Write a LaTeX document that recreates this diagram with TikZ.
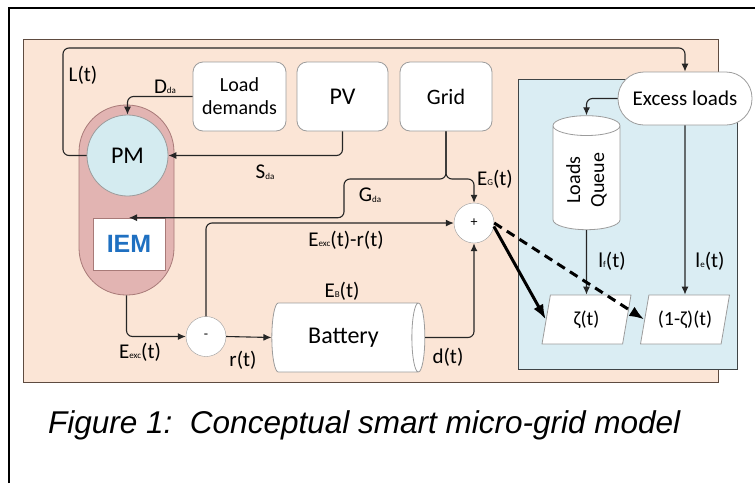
\documentclass[tikz,border=0pt]{standalone}
\usepackage{fontspec}
\setmainfont{Carlito}
\newfontfamily\capfont{Liberation Sans}
\usetikzlibrary{arrows.meta,shapes.geometric}

\definecolor{peach}{HTML}{FBE5D6}
\definecolor{peachedge}{HTML}{5E4B40}
\definecolor{aqua}{HTML}{DAEDF3}
\definecolor{aquaedge}{HTML}{3F4446}
\definecolor{pillfill}{HTML}{E2B4B2}
\definecolor{pilledge}{HTML}{A87A78}
\definecolor{pmfill}{HTML}{D4EBF0}
\definecolor{boxgray}{HTML}{9C9C9C}
\definecolor{linec}{HTML}{262626}
\definecolor{iemblue}{HTML}{1F70C1}

\newcommand\sbs[1]{\raisebox{-0.5pt}{\fontsize{9}{9}\selectfont #1}}
\newcommand\fs[1]{\fontsize{#1}{#1}\selectfont}

\begin{document}
\begin{tikzpicture}[x=1pt,y=-1pt,
  box/.style={draw=boxgray, fill=white, rounded corners=10pt, line width=0.8pt, align=center},
  sumnode/.style={circle, draw=boxgray, fill=white, minimum size=40pt, inner sep=0pt, font=\fs{14}},
  lbl/.style={inner sep=0pt, font=\fs{21}},
  arr/.style={-{Latex[length=8pt,width=7pt]}, line width=1.1pt, draw=linec, rounded corners=6pt},
  para/.style={trapezium, trapezium left angle=71, trapezium right angle=109, trapezium stretches body,
    draw=boxgray, fill=white, line width=0.8pt, minimum width=89pt, minimum height=49pt, font=\fs{20}}]
\useasboundingbox (0,0) rectangle (755,483);

% frame and panels
\draw[line width=1.8pt] (9,483) -- (9,8) -- (755,8);
\filldraw[fill=peach, draw=peachedge, line width=0.8pt] (23,39) rectangle (718,382);
\filldraw[fill=aqua, draw=aquaedge, line width=1pt] (518,79) rectangle (737,369);

% PM / IEM
\node[draw=pilledge, fill=pillfill, line width=0.8pt, rounded corners=47pt,
  minimum width=95pt, minimum height=190pt] (pill) at (126.5,200) {};
\node[circle, draw=boxgray, fill=pmfill, line width=0.8pt, minimum size=81pt, font=\fs{24}] (pm) at (127.5,155.5) {PM};
\node[fill=white, draw=pilledge, line width=0.6pt, minimum width=72pt, minimum height=52pt,
  font=\capfont\bfseries\fs{25}, text=iemblue] (iem) at (129,244) {IEM};

% sources
\node[box, minimum width=93pt, minimum height=69pt, font=\fontsize{20}{23}\selectfont] (load) at (239.5,96.5) {Load\\demands};
\node[box, minimum width=91pt, minimum height=69pt, font=\fs{24}] (pv) at (342.5,96.5) {PV};
\node[box, minimum width=92pt, minimum height=69pt, font=\fs{22}] (grid) at (446,96.5) {Grid};
\node[box, rounded corners=26pt, minimum width=134pt, minimum height=53pt, font=\fs{21}] (excess) at (685,98.5) {Excess loads};

% summing points and storage
\node[sumnode] (plus) at (474,223) {+};
\node[sumnode] (minus) at (206,336.5) {-};
\node[cylinder, draw=boxgray, fill=white, line width=0.8pt, aspect=0.5,
  minimum width=69pt, minimum height=153pt, font=\fs{24}] (battery) at (343.5,337.5) {Battery};
\node[cylinder, rotate=90, draw=boxgray, fill=white, line width=0.8pt, aspect=0.42, align=center,
  minimum width=67pt, minimum height=114pt, font=\fontsize{20}{24}\selectfont] (queue) at (586.5,180) {Loads\\Queue};
\node[para] (zeta) at (586.5,319.5) {ζ(t)};
\node[para] (zetac) at (685,319.5) {(1-ζ)(t)};

% connectors
\coordinate (gsplit) at (446,179);
\draw[arr] (pm.west) -| (63,48) -| (excess.north);
\draw[arr] (load.west) -| (pm.north);
\draw[arr] (pv.south) |- (pm.east);
\draw[arr] (grid.south) -- (gsplit) -- (344,179) |- (iem.north);
\draw[arr] (grid.south) -- (gsplit) -| (plus.north);
\draw[arr] (minus.north) |- (plus.west);
\draw[arr] (pill.south) |- (minus.west);
\draw[arr] (minus.east) -- (battery.west);
\draw[arr] (battery.east) -| (plus.south);
\draw[arr] (excess.west) -| (queue.east);
\draw[arr] (queue.west) -- (zeta.north);
\draw[arr] (excess.south) -- (zetac.north);
\draw[-{Latex[length=15pt,width=11pt]}, line width=3pt, draw=black] (plus.-10) -- (zeta.west);
\draw[-{Latex[length=15pt,width=11pt]}, line width=3pt, draw=black, dash pattern=on 9pt off 6pt] (plus.east) -- (zetac.west);

% labels
\node[lbl] (llt) at (83,75) {L(t)};
\node[lbl] (lda) at (165,87) {D\sbs{da}};
\node[lbl] (lsda) at (265,172) {S\sbs{da}};
\node[lbl] (lgda) at (370,195) {G\sbs{da}};
\node[lbl] (leg) at (495,179) {E\sbs{G}(t)};
\node[lbl] (ldiff) at (346,240) {E\sbs{exc}(t)-r(t)};
\node[lbl] (leb) at (342,291) {E\sbs{B}(t)};
\node[lbl] (lexc) at (140,352) {E\sbs{exc}(t)};
\node[lbl] (lrt) at (243,360) {r(t)};
\node[lbl] (ldt) at (448,357) {d(t)};
\node[lbl] (llf) at (612,261) {l\sbs{f}(t)};
\node[lbl] (lle) at (710,261) {l\sbs{e}(t)};

% caption
\node[anchor=base west, inner sep=0pt, font=\capfont\itshape\fs{31.5}] (cap) at (48,433)
  {Figure 1:\ \ Conceptual smart micro-grid model};
\end{tikzpicture}
\end{document}
